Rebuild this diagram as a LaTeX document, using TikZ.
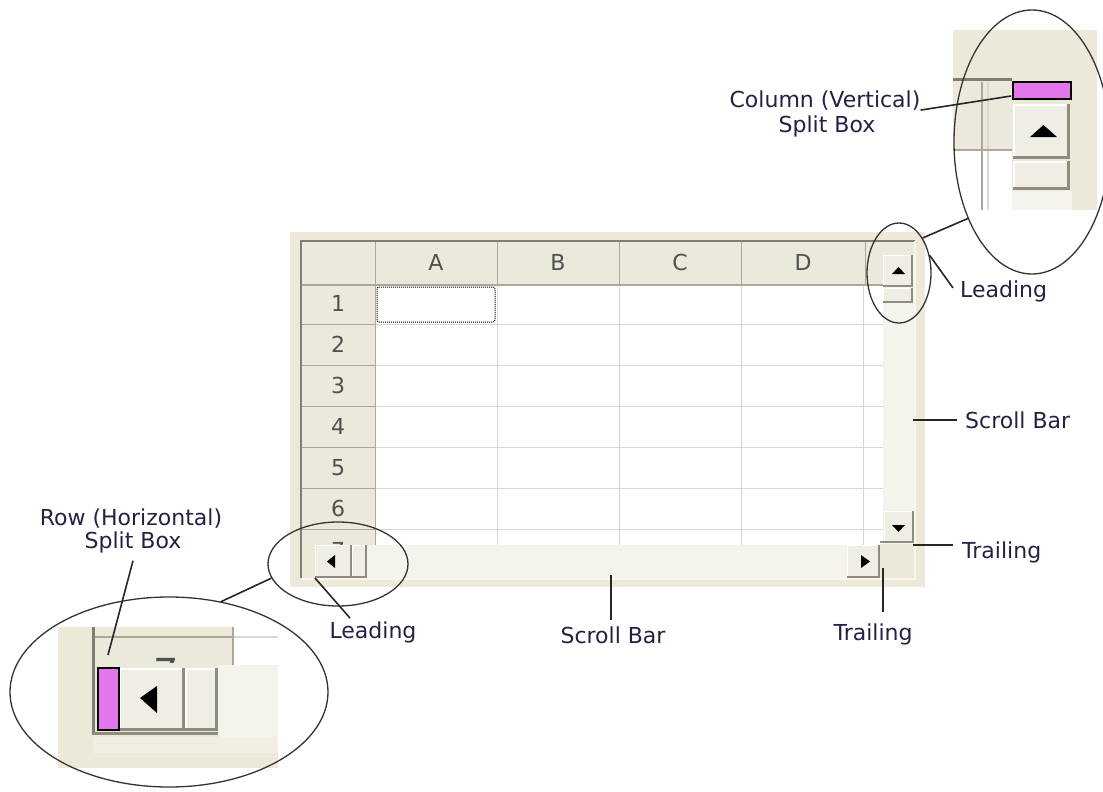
\documentclass[tikz,border=0pt]{standalone}
\usepackage{fontspec}
\setmainfont{DejaVu Sans}
\usetikzlibrary{shapes.geometric}
\definecolor{panel}{HTML}{ECE9D8}
\definecolor{hdrfill}{HTML}{EBE9DB}
\definecolor{hdrline}{HTML}{ACA899}
\definecolor{gridline}{HTML}{D8D8D2}
\definecolor{frame}{HTML}{7F7D74}
\definecolor{trackfill}{HTML}{F4F3EC}
\definecolor{btnfill}{HTML}{F0EEE4}
\definecolor{btnshadow}{HTML}{8E8C80}
\definecolor{pinkbox}{HTML}{E276EA}
\definecolor{labeltext}{HTML}{222244}
\definecolor{hdrtext}{HTML}{505050}
\newcommand\xpbtn[5]{%
  \fill[btnfill] (#1,#2) rectangle (#3,#4);
  \draw[white,line width=#5*0.6pt] (#1+#5*0.3,#4-#5) -- (#1+#5*0.3,#2+#5*0.3) -- (#3-#5,#2+#5*0.3);
  \draw[btnshadow,line width=#5*1pt] (#1,#4-#5/2) -- (#3-#5/2,#4-#5/2) -- (#3-#5/2,#2);
}
\begin{document}
\begin{tikzpicture}[x=1pt,y=-1pt,
  lbl/.style={font=\fontsize{22}{26}\selectfont, text=labeltext, inner sep=0pt},
  hdr/.style={font=\fontsize{22}{24}\selectfont, text=hdrtext, inner sep=0pt},
  conn/.style={draw=black!85, line width=1.6pt},
  callout/.style={ellipse, draw=black!80, line width=1.3pt, inner sep=0pt}]
\useasboundingbox (0,0) rectangle (1103,792);

% ---------- main grid ----------
\fill[panel] (290,232) rectangle (925,587);
\fill[hdrfill] (301,241) rectangle (883,285);
\fill[hdrfill] (883,241) rectangle (914,255);
\fill[hdrfill] (301,285) rectangle (375,545);
\fill[white] (375,285) rectangle (883,545);
\foreach \y in {324,365,406,447,488,529}
  \draw[gridline, line width=1pt] (375,\y) -- (883,\y);
\foreach \x in {497,619,741,863}
  \draw[gridline, line width=1pt] (\x,285) -- (\x,545);
\foreach \y in {324,365,406,447,488,529}
  \draw[hdrline, line width=1pt] (301,\y) -- (375,\y);
\foreach \x in {375,497,619,741,865}
  \draw[hdrline, line width=1pt] (\x,241) -- (\x,285);
\draw[hdrline, line width=1.2pt] (301,285) -- (883,285);
\draw[hdrline, line width=1pt] (375,285) -- (375,545);
\foreach \t/\x in {A/436,B/558,C/680,D/803}
  \node[hdr, anchor=base] (col\t) at (\x,270) {\t};
\foreach \n/\yb in {1/311,2/352,3/393,4/434,5/475,6/516}
  \node[hdr, anchor=base] (row\n) at (338,\yb) {\n};
\begin{scope}
  \clip (301,529) rectangle (375,545);
  \node[hdr, anchor=base] (row7) at (338,558) {7};
\end{scope}
\draw[black, line width=1pt, dash pattern=on 1pt off 1pt, rounded corners=2pt] (377,287) rectangle (495,322);

% vertical scroll bar
\fill[trackfill] (883,255) rectangle (914,545);
\xpbtn{883}{255}{913}{287}{2}
\xpbtn{883}{288}{913}{303}{2}
\xpbtn{884}{511}{914}{543}{2}
% horizontal scroll bar
\fill[trackfill] (301,545) rectangle (880,578);
\fill[panel] (301,545) rectangle (315,578);
\xpbtn{315}{545}{352}{578}{2}
\xpbtn{352}{545}{367}{578}{2}
\xpbtn{847}{545}{880}{578}{2}
\fill[panel] (880,544) rectangle (914,578);
\draw[btnshadow, line width=2pt] (880,542) -- (913,542);
% arrows
\fill (892,274) -- (905,274) -- (898.5,267) -- cycle;
\fill (892,525) -- (905,525) -- (898.5,532) -- cycle;
\fill (327,561.5) -- (335,555) -- (335,568) -- cycle;
\fill (870,561.5) -- (861,555) -- (861,568) -- cycle;
% frame
\draw[frame, line width=2.2pt] (301,578) -- (301,241) -- (915,241);
\draw[white!60!panel, line width=1.5pt] (301,579) -- (915,579) -- (915,241);

% ---------- top right inset ----------
\fill[panel] (953,30) rectangle (1097,210);
\fill[hdrfill] (953,86) rectangle (1012,150);
\fill[white] (953,151) rectangle (1012,210);
\draw[frame, line width=3pt] (953,80) -- (1012,80);
\draw[hdrline, line width=2.2pt] (982,82) -- (982,210);
\draw[gridline, line width=1.5pt] (988,82) -- (988,210);
\draw[hdrline, line width=2pt] (953,150) -- (1012,150);
\fill[trackfill] (1012,191) rectangle (1072,210);
\xpbtn{1013}{104}{1070}{159}{3.5}
\xpbtn{1013}{161}{1070}{190}{3.5}
\draw[black, line width=1.5pt, fill=pinkbox] (1013,82) rectangle (1071,99);
\fill (1030,137) -- (1057,137) -- (1043.5,125) -- cycle;

% ---------- bottom left inset ----------
\fill[panel] (58,627) rectangle (278,768);
\fill[white] (233,627) rectangle (278,665);
\draw[gridline, line width=1.5pt] (233,637) -- (278,637);
\fill[hdrfill] (95,637) rectangle (232,668);
\draw[hdrline, line width=2.5pt] (93,637) -- (233,637);
\draw[hdrline, line width=2.5pt] (233,627) -- (233,665);
\begin{scope}
  \clip (95,640) rectangle (232,662);
  \node[font=\fontsize{40}{40}\selectfont, text=hdrtext, anchor=base, inner sep=0pt] (row7big) at (166,687) {7};
\end{scope}
\fill[trackfill] (218,665) rectangle (278,737);
\fill[trackfill!60!panel] (93,737) rectangle (278,753);
\xpbtn{119}{668}{185}{731}{3.5}
\xpbtn{185}{668}{218}{731}{3.5}
\draw[frame, line width=3pt] (93,627) -- (93,735);
\draw[btnshadow, line width=3pt] (93,733) -- (218,733);
\draw[black, line width=1.5pt, fill=pinkbox] (98,668) rectangle (119,730);
\fill (140,698) -- (157,686) -- (157,713) -- cycle;

% ---------- callout ellipses ----------
\node[callout, minimum width=156, minimum height=264] (bigTR) at (1032,142) {};
\node[callout, minimum width=64, minimum height=100] (smallTR) at (899,273) {};
\node[callout, minimum width=140, minimum height=84] (smallBL) at (338,564) {};
\node[callout, minimum width=318, minimum height=190] (bigBL) at (169,692) {};
\draw[conn] (bigTR.230) -- (smallTR.56);
\draw[conn] (bigBL.60) -- (smallBL.192);

% ---------- labels ----------
\node[lbl, anchor=base west] (leadR) at (960,297) {Leading};
\node[lbl, anchor=base west] (sbR) at (965,428) {Scroll Bar};
\node[lbl, anchor=base west] (trailR) at (962,558) {Trailing};
\node[lbl, anchor=base] (trailB) at (873,640) {Trailing};
\node[lbl, anchor=base] (sbB) at (613,643) {Scroll Bar};
\node[lbl, anchor=base] (leadB) at (373,638) {Leading};
\node[lbl, anchor=base] (colA) at (825,107) {Column (Vertical)};
\node[lbl, anchor=base] (colB) at (827,132) {Split Box};
\node[lbl, anchor=base] (rowA) at (131,525) {Row (Horizontal)};
\node[lbl, anchor=base] (rowB) at (133,548) {Split Box};

% ---------- connectors ----------
\coordinate (colpt) at (1011,96);
\coordinate (rowpt) at (108,655);
\coordinate (sbRpt) at (913,420);
\coordinate (trRpt) at (913,545);
\coordinate (trBpt) at (883,568);
\coordinate (sbBpt) at (611,575);
\coordinate (leadBpt) at (315,578);
\draw[conn] (colA.south east) -- (colpt);
\draw[conn] ([yshift=-8pt]rowB.south) -- (rowpt);
\draw[conn] (smallTR.30) -- ([xshift=-7pt,yshift=3pt]leadR.west);
\draw[conn] (sbRpt) -- ([xshift=-8pt]sbR.west |- sbRpt);
\draw[conn] (trRpt) -- ([xshift=-9pt]trailR.west |- trRpt);
\draw[conn] (trBpt) -- ([yshift=11pt]trBpt |- trailB.north);
\draw[conn] (sbBpt) -- ([yshift=6pt]sbBpt |- sbB.north);
\draw[conn] (leadBpt) -- ([xshift=-23pt,yshift=3pt]leadB.north);
\end{tikzpicture}
\end{document}
